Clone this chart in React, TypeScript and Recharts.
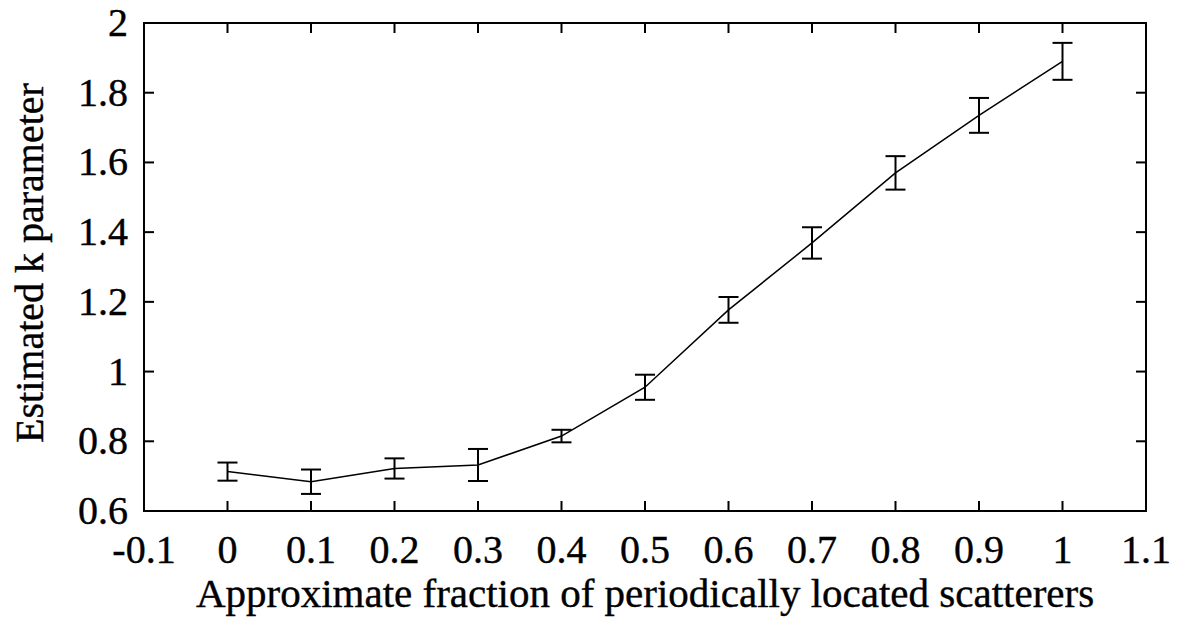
import * as R from "recharts";
import { LineChart, Line, XAxis, YAxis, ErrorBar } from "recharts";

// approximate fraction of periodically located scatterers
const fractions = [0, 0.1, 0.2, 0.3, 0.4, 0.5, 0.6, 0.7, 0.8, 0.9, 1];
// estimated k parameter (mean) and its error bar half-height
const kValues = [0.713, 0.684, 0.722, 0.732, 0.815, 0.955, 1.177, 1.369, 1.57, 1.735, 1.89];
const kErrors = [0.026, 0.035, 0.029, 0.046, 0.018, 0.036, 0.037, 0.045, 0.048, 0.05, 0.053];

const xTicks = [-0.1, 0, 0.1, 0.2, 0.3, 0.4, 0.5, 0.6, 0.7, 0.8, 0.9, 1, 1.1];
const yTicks = [0.6, 0.8, 1, 1.2, 1.4, 1.6, 1.8, 2];
const xDomain = [-0.1, 1.1];
const yDomain = [0.6, 2];

const data = fractions.map((f, i) => ({ x: f, k: kValues[i], err: kErrors[i] }));

const FONT = '"Liberation Serif", "Times New Roman", serif';
const INK = "#000";
const T = 10; // tick length, ticks point inward
const FS = 40;

const textProps = {
  fontFamily: FONT,
  fontSize: FS,
  fill: INK,
  stroke: INK,
  strokeWidth: 0.4,
};

// recharts hands the tick its label anchor, which sits T px outside the axis line
const BottomTick = ({ x, y, payload }: any) => (
  <g>
    <line x1={x} y1={y - T} x2={x} y2={y - 2 * T} stroke={INK} strokeWidth={2} />
    <text x={x} y={y + 42} textAnchor="middle" {...textProps}>
      {String(payload.value)}
    </text>
  </g>
);

const LeftTick = ({ x, y, payload }: any) => (
  <g>
    <line x1={x + T} y1={y} x2={x + 2 * T} y2={y} stroke={INK} strokeWidth={2} />
    <text x={x - 6} y={y + 13} textAnchor="end" {...textProps}>
      {String(payload.value)}
    </text>
  </g>
);

// closes the box on top/right and repeats the ticks there (gnuplot style)
const Frame = () => {
  const plot = (R as any).usePlotArea ? (R as any).usePlotArea() : null;
  if (!plot) return null;
  const { x, y, width, height } = plot;
  const right = x + width;
  const sx = (v: number) => x + ((v - xDomain[0]) / (xDomain[1] - xDomain[0])) * width;
  const sy = (v: number) => y + height - ((v - yDomain[0]) / (yDomain[1] - yDomain[0])) * height;
  return (
    <g>
      <rect x={x} y={y} width={width} height={height} fill="none" stroke={INK} strokeWidth={2} />
      {xTicks.map((t) => (
        <line key={`t${t}`} x1={sx(t)} y1={y} x2={sx(t)} y2={y + T} stroke={INK} strokeWidth={2} />
      ))}
      {yTicks.map((t) => (
        <line key={`r${t}`} x1={right} y1={sy(t)} x2={right - T} y2={sy(t)} stroke={INK} strokeWidth={2} />
      ))}
    </g>
  );
};

const XTitle = ({ viewBox }: any) => (
  <text
    x={viewBox.x + viewBox.width / 2}
    y={viewBox.y + 96}
    textAnchor="middle"
    {...textProps}
    fontSize={41}
  >
    Approximate fraction of periodically located scatterers
  </text>
);

const YTitle = ({ viewBox }: any) => {
  const cx = 43;
  const cy = viewBox.y + viewBox.height / 2 - 4;
  return (
    <text
      x={cx}
      y={cy}
      transform={`rotate(-90, ${cx}, ${cy})`}
      textAnchor="middle"
      {...textProps}
    >
      Estimated k parameter
    </text>
  );
};

const axisLine = { stroke: INK, strokeWidth: 2 };

export default function App() {
  return (
    <div style={{ position: "absolute", left: 0, top: 0, background: "#fff" }}>
      <LineChart
        width={1183}
        height={631}
        data={data}
        margin={{ top: 23, right: 37, left: 0, bottom: 0 }}
      >
        <XAxis
          dataKey="x"
          type="number"
          domain={xDomain}
          ticks={xTicks}
          height={120}
          tickSize={T}
          tickMargin={0}
          tickLine={false}
          axisLine={axisLine}
          tick={(p: any) => <BottomTick {...p} />}
          interval={0}
          label={(p: any) => <XTitle {...p} />}
        />
        <YAxis
          type="number"
          domain={yDomain}
          ticks={yTicks}
          width={144}
          tickSize={T}
          tickMargin={0}
          tickLine={false}
          axisLine={axisLine}
          tick={(p: any) => <LeftTick {...p} />}
          interval={0}
          label={(p: any) => <YTitle {...p} />}
        />
        <Frame />
        <Line
          dataKey="k"
          type="linear"
          stroke={INK}
          strokeWidth={1.5}
          dot={false}
          activeDot={false}
          isAnimationActive={false}
        >
          <ErrorBar dataKey="err" direction="y" width={10} stroke={INK} strokeWidth={2} />
        </Line>
      </LineChart>
    </div>
  );
}
